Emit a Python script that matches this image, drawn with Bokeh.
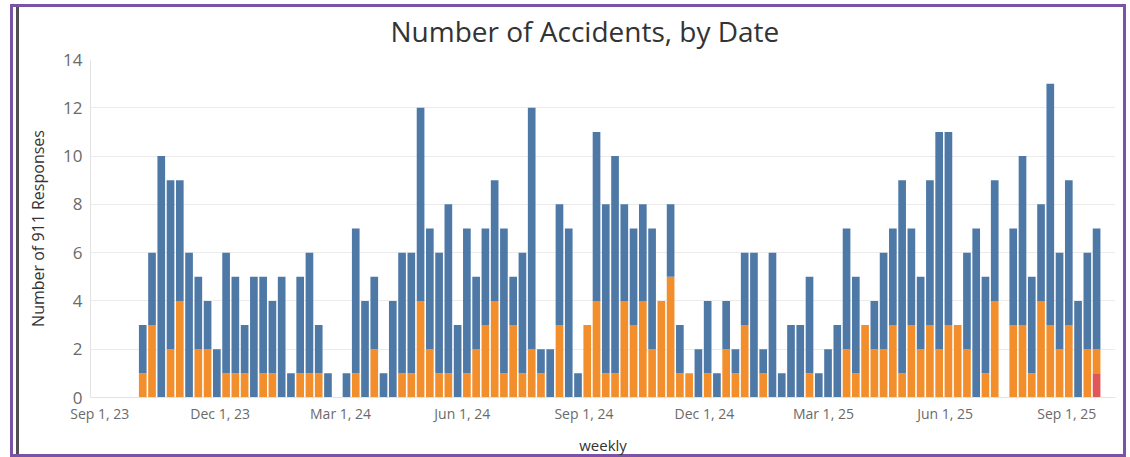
import pandas as pd
from bokeh.plotting import figure
from bokeh.models import ColumnDataSource, FixedTicker, Range1d
from bokeh.embed import file_html
from bokeh.resources import INLINE

# ---- data (weekly counts, weeks starting Sunday) ----
week_start = pd.date_range("2023-10-01", periods=104, freq="7D")

blue_counts = [
    2, 3, 10, 7, 5, 6, 3, 2, 2, 5,
    4, 2, 5, 4, 3, 5, 1, 4, 5, 2,
    1, 0, 1, 6, 4, 3, 1, 4, 5, 5,
    8, 5, 5, 7, 3, 6, 3, 4, 5, 6,
    2, 5, 10, 1, 2, 5, 7, 1, 0, 7,
    7, 9, 4, 4, 4, 5, 0, 3, 2, 0,
    2, 3, 1, 2, 1, 3, 6, 1, 6, 1,
    3, 3, 4, 1, 2, 3, 5, 4, 0, 2,
    4, 4, 8, 4, 3, 6, 9, 8, 0, 4,
    7, 4, 5, 0, 4, 7, 4, 4, 10, 4,
    6, 4, 4, 5,
]
orange_counts = [
    1, 3, 0, 2, 4, 0, 2, 2, 0, 1,
    1, 1, 0, 1, 1, 0, 0, 1, 1, 1,
    0, 0, 0, 1, 0, 2, 0, 0, 1, 1,
    4, 2, 1, 1, 0, 1, 2, 3, 4, 1,
    3, 1, 2, 1, 0, 3, 0, 0, 3, 4,
    1, 1, 4, 3, 4, 2, 4, 5, 1, 1,
    0, 1, 0, 2, 1, 3, 0, 1, 0, 0,
    0, 0, 1, 0, 0, 0, 2, 1, 3, 2,
    2, 3, 1, 3, 2, 3, 2, 3, 3, 2,
    0, 1, 4, 0, 3, 3, 1, 4, 3, 2,
    3, 0, 2, 1,
]
red_counts = [
    0, 0, 0, 0, 0, 0, 0, 0, 0, 0,
    0, 0, 0, 0, 0, 0, 0, 0, 0, 0,
    0, 0, 0, 0, 0, 0, 0, 0, 0, 0,
    0, 0, 0, 0, 0, 0, 0, 0, 0, 0,
    0, 0, 0, 0, 0, 0, 0, 0, 0, 0,
    0, 0, 0, 0, 0, 0, 0, 0, 0, 0,
    0, 0, 0, 0, 0, 0, 0, 0, 0, 0,
    0, 0, 0, 0, 0, 0, 0, 0, 0, 0,
    0, 0, 0, 0, 0, 0, 0, 0, 0, 0,
    0, 0, 0, 0, 0, 0, 0, 0, 0, 0,
    0, 0, 0, 1,
]

tick_dates = ["2023-09-01", "2023-12-01", "2024-03-01", "2024-06-01", "2024-09-01",
              "2024-12-01", "2025-03-01", "2025-06-01", "2025-09-01"]
tick_labels = ["Sep 1, 23", "Dec 1, 23", "Mar 1, 24", "Jun 1, 24", "Sep 1, 24",
               "Dec 1, 24", "Mar 1, 25", "Jun 1, 25", "Sep 1, 25"]
y_ticks = [0, 2, 4, 6, 8, 10, 12, 14]

BLUE = "#4e79a7"
ORANGE = "#f28e2b"
RED = "#e15759"
PURPLE = "#7a52a6"

DAY_MS = 86400000
src = ColumnDataSource(dict(
    x=week_start + pd.Timedelta(hours=60),
    red=red_counts,
    orange=orange_counts,
    blue=blue_counts,
))

p = figure(
    width=1128, height=457,
    x_axis_type="datetime",
    x_range=Range1d(pd.Timestamp("2023-08-25"), pd.Timestamp("2025-10-07 19:00")),
    y_range=Range1d(0, 14),
    output_backend="svg", toolbar_location=None,
    min_border_left=90, min_border_right=13, min_border_top=59, min_border_bottom=60,
    title="Number of Accidents, by Date",
)

p.vbar_stack(["red", "orange", "blue"], x="x", width=5.8 * DAY_MS, source=src,
             color=[RED, ORANGE, BLUE], line_color=None)

# page frame look (drawn as inset bands behind the transparent canvas border)
p.styles = {
    "background-color": "#ffffff",
    "box-shadow": ", ".join([
        "inset 0 4px 0 0 #ffffff",
        "inset 10px 0 0 0 #ffffff",
        "inset -2px 0 0 0 #ffffff",
        f"inset 0 7px 0 0 {PURPLE}",
        f"inset 13px 0 0 0 {PURPLE}",
        f"inset -5px 0 0 0 {PURPLE}",
        f"inset 0 -3px 0 0 {PURPLE}",
        "inset 16px 0 0 0 #ffffff",
        "inset 19px 0 0 0 #505050",
    ]),
}
p.border_fill_color = None
p.background_fill_color = "#ffffff"
p.outline_line_color = None

# title
p.title.text_font = "Open Sans"
p.title.text_font_size = "28px"
p.title.text_font_style = "normal"
p.title.text_color = "#333333"
p.title.align = "left"
p.title.offset = 300
p.title.standoff = 19

# grid
p.xgrid.visible = False
p.ygrid.ticker = FixedTicker(ticks=y_ticks)
p.ygrid.grid_line_color = "#ebebeb"

# x axis
tick_ms = [pd.Timestamp(d).value // 10**6 for d in tick_dates]
p.xaxis.ticker = FixedTicker(ticks=tick_ms)
p.xaxis.major_label_overrides = {t: lab for t, lab in zip(tick_ms, tick_labels)}
p.xaxis.major_label_text_font = "Open Sans"
p.xaxis.major_label_text_font_size = "14px"
p.xaxis.major_label_text_color = "#6a6a6a"
p.xaxis.major_tick_out = 0
p.xaxis.major_tick_in = 0
p.xaxis.major_label_standoff = 6
p.xaxis.major_tick_line_color = None
p.xaxis.minor_tick_line_color = None
p.xaxis.axis_line_color = "#e3e3e3"
p.xaxis.axis_label = "weekly"
p.xaxis.axis_label_text_font = "Open Sans"
p.xaxis.axis_label_text_font_size = "15px"
p.xaxis.axis_label_text_font_style = "normal"
p.xaxis.axis_label_text_color = "#333333"
p.xaxis.axis_label_standoff = 9

# y axis
p.yaxis.ticker = FixedTicker(ticks=y_ticks)
p.yaxis.major_label_text_font = "Open Sans"
p.yaxis.major_label_text_font_size = "17px"
p.yaxis.major_label_text_color = "#6a6a6a"
p.yaxis.major_tick_out = 0
p.yaxis.major_tick_in = 0
p.yaxis.major_label_standoff = 8
p.yaxis.major_tick_line_color = None
p.yaxis.minor_tick_line_color = None
p.yaxis.axis_line_color = "#e3e3e3"
p.yaxis.axis_label = "Number of 911 Responses"
p.yaxis.axis_label_text_font = "Open Sans"
p.yaxis.axis_label_text_font_size = "16px"
p.yaxis.axis_label_text_font_style = "normal"
p.yaxis.axis_label_text_color = "#333333"
p.yaxis.axis_label_standoff = 11

open("out.html", "w").write(file_html(p, INLINE))
